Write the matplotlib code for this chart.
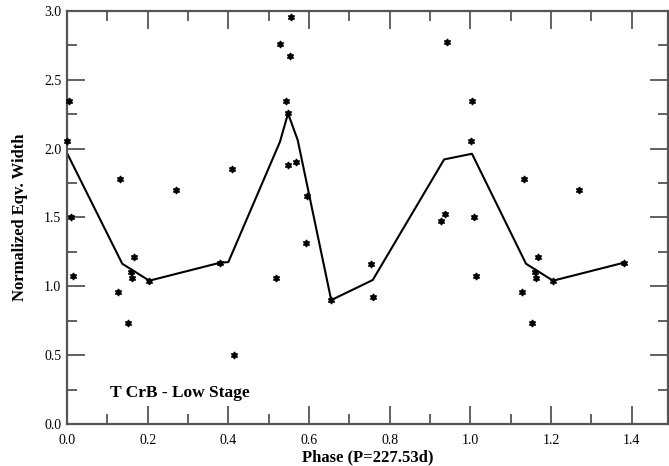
import matplotlib
matplotlib.use("Agg")
import matplotlib.pyplot as plt
from matplotlib.ticker import MultipleLocator

# measured equivalent widths, folded on phase (first cycle plus repeated part)
phase = [0.000, 0.005, 0.009, 0.014, 0.127, 0.132, 0.152, 0.159, 0.161, 0.167,
         0.204, 0.270, 0.380, 0.409, 0.414, 0.517, 0.527, 0.543, 0.548, 0.548,
         0.552, 0.556, 0.567, 0.592, 0.596, 0.655, 0.754, 0.758, 0.926, 0.938,
         0.943, 1.001, 1.004, 1.009, 1.014, 1.127, 1.132, 1.153, 1.160, 1.162,
         1.168, 1.205, 1.269, 1.381]
eqw = [2.053, 2.343, 1.501, 1.072, 0.959, 1.781, 0.731, 1.101, 1.058, 1.213,
       1.041, 1.702, 1.172, 1.854, 0.499, 1.060, 2.760, 2.343, 2.256, 1.883,
       2.672, 2.953, 1.900, 1.312, 1.653, 0.900, 1.160, 0.922, 1.472, 1.525,
       2.772, 2.053, 2.343, 1.501, 1.072, 0.959, 1.781, 0.731, 1.101, 1.058,
       1.213, 1.041, 1.702, 1.172]

# mean curve
curve_phase = [0.000, 0.137, 0.204, 0.380, 0.400, 0.528, 0.548, 0.572, 0.655,
               0.758, 0.935, 1.004, 1.138, 1.205, 1.381]
curve_eqw = [1.968, 1.164, 1.041, 1.172, 1.176, 2.050, 2.256, 2.062, 0.900,
             1.046, 1.922, 1.963, 1.164, 1.041, 1.172]

plt.rcParams['font.family'] = 'Liberation Serif'

fig = plt.figure(figsize=(6.69, 4.66), dpi=100)
ax = fig.add_axes([67 / 669, 1 - 424 / 466, 601 / 669, 413 / 466])

ax.plot(curve_phase, curve_eqw, color='black', lw=1.5, zorder=2)
ax.plot(phase, eqw, ls='none', marker=(6, 1, 0), ms=5, color='black',
        zorder=3, clip_on=False)

ax.set_xlim(0, 1.49)
ax.set_ylim(0, 3.0)
ax.xaxis.set_major_locator(MultipleLocator(0.2))
ax.xaxis.set_minor_locator(MultipleLocator(0.1))
ax.yaxis.set_major_locator(MultipleLocator(0.5))
ax.yaxis.set_minor_locator(MultipleLocator(0.25))
ax.xaxis.set_major_formatter(plt.FormatStrFormatter('%.1f'))
ax.yaxis.set_major_formatter(plt.FormatStrFormatter('%.1f'))

ax.tick_params(which='both', direction='in', top=True, right=True,
               color='#555555', width=1.3, labelsize=10)
ax.tick_params(which='major', length=13)
ax.tick_params(which='minor', length=7)
ax.tick_params(axis='x', which='major', pad=7)
ax.tick_params(axis='y', which='major', pad=4)
for s in ax.spines.values():
    s.set_color('#555555')
    s.set_linewidth(1.6)

ax.set_xlabel('Phase (P=227.53d)', fontsize=12, fontweight='bold', labelpad=2)
ax.set_ylabel('Normalized Eqv. Width', fontsize=12, fontweight='bold', labelpad=12)

ax.text(0.107, 0.225, 'T CrB - Low Stage', fontsize=12.5, fontweight='bold',
        va='center', ha='left')

fig.savefig('out.png', dpi=100)
